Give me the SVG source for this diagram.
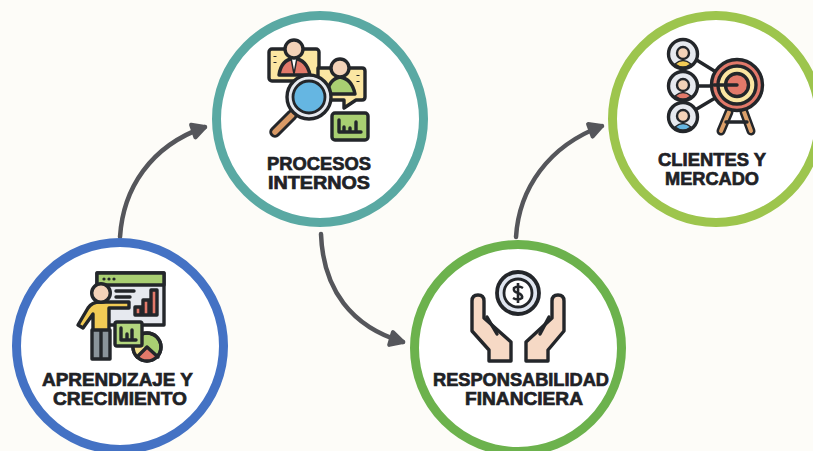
<svg xmlns="http://www.w3.org/2000/svg" width="813" height="451" viewBox="0 0 813 451">
<style>
.bg{fill:#fdfcf8}
.ring{fill:#fff;stroke-width:9}
.lbl{font-family:"Liberation Sans",Arial,sans-serif;font-weight:700;font-size:18.5px;fill:#1f2226;stroke:#1f2226;stroke-width:.7;text-anchor:middle}
.conn{fill:none;stroke:#55565b;stroke-width:4.500;stroke-linecap:round}
.k{stroke:#23262a;stroke-width:3.400;stroke-linejoin:round;stroke-linecap:round}
.n{fill:none}
.face{fill:#f3d2b8;stroke:#23262a;stroke-width:2.400}
</style>
<defs>
<marker id="arrow" viewBox="0 0 12 12" refX="10" refY="6" markerWidth="4.400" markerHeight="4.400" orient="auto" markerUnits="strokeWidth">
<path d="M2.500 2L10 6L2.500 10Z" fill="#55565b" stroke="#55565b" stroke-width="2.500" stroke-linejoin="round"/>
</marker>
</defs>
<rect class="bg" width="813" height="451"/>
<g id="connectors">
<path class="conn" d="M120 237C123 189 150 146 205 127" marker-end="url(#arrow)"/>
<path class="conn" d="M321 234C323 290 352 327 403 342" marker-end="url(#arrow)"/>
<path class="conn" d="M516 237C519 189 548 146 602 126" marker-end="url(#arrow)"/>
</g>
<g id="aprendizaje">
<circle class="ring" cx="120" cy="346" r="103.500" stroke="#4472c4"/>
<rect class="k" x="97" y="273" width="67" height="52" fill="#e6e9ef"/>
<rect class="k" x="97" y="273" width="67" height="12" fill="#a9cf72"/>
<circle cx="104" cy="279" r="1.600" fill="#23262a"/><circle cx="109" cy="279" r="1.600" fill="#23262a"/><circle cx="114" cy="279" r="1.600" fill="#23262a"/>
<path class="k n" d="M116 291h18M116 297h14" stroke-width="2"/>
<path class="k" d="M135 315v-8h6v8zM143 315v-15h6v15zM151 315v-25h6v25z" fill="#e2796a" stroke-width="2"/>
<path class="k" d="M78 325L88 308Q92 302 100 302H129V308H109V333H93V314L83 328Z" fill="#f2cb55"/>
<path class="k" d="M92 330H101V359H92ZM101 330H110V359H101Z" fill="#8a949b"/>
<circle class="k" cx="101" cy="293" r="9.300" fill="#f3d2b8"/>
<circle class="k" cx="147" cy="347" r="14" fill="#a9cf72"/>
<path d="M147 347L137 357Q147 366 158 357Z" fill="#e2796a"/>
<path d="M147 347L133 347Q134 352 137 357Z" fill="#f2e08d"/>
<path class="k n" d="M147 347L137 357M147 347L158 357" stroke-width="2.200"/>
<circle class="k n" cx="147" cy="347" r="14"/>
<rect class="k" x="115" y="322" width="27" height="24" rx="2" fill="#b3d67e"/>
<path class="k n" d="M121 328V340H136M127 339V334M132 339V330" stroke-width="2.200"/>
<text class="lbl" x="117.500" y="385.500" textLength="151" lengthAdjust="spacingAndGlyphs">APRENDIZAJE Y</text>
<text class="lbl" x="120" y="404.500" textLength="134" lengthAdjust="spacingAndGlyphs">CRECIMIENTO</text>
</g>
<g id="procesos">
<circle class="ring" cx="320" cy="119" r="103.500" stroke="#5aa9a3"/>
<rect class="k" x="269" y="49" width="50" height="32" rx="3" fill="#fbe6a2"/>
<path class="k" d="M279 75Q281 60 294 58Q307 60 310 75Z" fill="#e2796a"/>
<path d="M291 58H297L294 74Z" fill="#fff" stroke="#23262a" stroke-width="1.500"/>
<circle class="k" cx="294" cy="49" r="9" fill="#f3d2b8"/>
<path class="k" d="M318 68H362Q365 68 365 71V97Q365 100 362 100H356L344 108V100H318Z" fill="#fbe6a2"/>
<path class="k" d="M327 94Q329 79 340 77Q352 79 355 94Z" fill="#a9cf72"/>
<circle class="k" cx="340" cy="68" r="9" fill="#f3d2b8"/>
<path d="M358 75v1M358 81v1M275 56v1M275 62v1" stroke="#23262a" stroke-width="3"/>
<path d="M292 115L275 132" stroke="#23262a" stroke-width="11.500" stroke-linecap="round"/>
<path d="M292 115L275 132" stroke="#d99a66" stroke-width="5.500" stroke-linecap="round"/>
<circle cx="309" cy="97" r="22" fill="#e6e9ef" stroke="#23262a" stroke-width="3.400"/>
<circle cx="309" cy="97" r="16" fill="#65b6e2" stroke="#23262a" stroke-width="2.800"/>
<rect class="k" x="332" y="113" width="36" height="27" rx="3" fill="#a9cf72"/>
<path class="k n" d="M339 120V132H361M344 131V127M350 131V128M356 131V122" stroke-width="2.800"/>
<text class="lbl" x="319" y="170" textLength="104" lengthAdjust="spacingAndGlyphs">PROCESOS</text>
<text class="lbl" x="319" y="189" textLength="102" lengthAdjust="spacingAndGlyphs">INTERNOS</text>
</g>
<g id="responsabilidad">
<circle class="ring" cx="518" cy="348" r="103.500" stroke="#6cb24d"/>
<circle cx="518" cy="293" r="21" fill="#dfe5ef" stroke="#23262a" stroke-width="3.800"/>
<circle cx="518" cy="293" r="14" fill="#fff" stroke="#23262a" stroke-width="2.800"/>
<path class="n" d="M523 288Q518 285 514 288Q513 292 518 293Q523 295 522 298Q518 301 513 298M518 283V303" stroke="#23262a" stroke-width="2.600"/>
<path class="k" d="M472 301Q472 295 478 295Q484 295 484 301V318L511 342V361H489V350L472 331Z" fill="#f6d9c5"/>
<path class="k n" d="M487 317L497 334"/>
<path class="k" d="M564 301Q564 295 558 295Q552 295 552 301V318L526 342V361H548V350L564 331Z" fill="#f6d9c5"/>
<path class="k n" d="M549 317L540 334"/>
<text class="lbl" x="521" y="385.500" textLength="176" lengthAdjust="spacingAndGlyphs">RESPONSABILIDAD</text>
<text class="lbl" x="524" y="404.500" textLength="118" lengthAdjust="spacingAndGlyphs">FINANCIERA</text>
</g>
<g id="clientes">
<circle class="ring" cx="716" cy="119" r="103.500" stroke="#9dc54d"/>
<path class="k n" d="M695 59L737 85M697 86H737M695 110L737 85"/>
<path d="M729 112L721 131M744 112L751 131" stroke="#23262a" stroke-width="9" stroke-linecap="round"/>
<path d="M729 112L721 131M744 112L751 131" stroke="#dca06a" stroke-width="4" stroke-linecap="round"/>
<path class="k n" d="M726 122H747"/>
<circle class="k" cx="737" cy="85" r="25.500" fill="#e2796a"/>
<circle class="k" cx="737" cy="85" r="19" fill="#fbe6a2"/>
<circle class="k" cx="737" cy="85" r="11.500" fill="#e2796a"/>
<path class="k n" d="M714 85H737"/>
<circle class="k" cx="683" cy="54" r="14.500" fill="#e6e9ef"/>
<path d="M675 64Q683 57 691 64Q683 70 675 64Z" fill="#f2cb55" stroke="#23262a" stroke-width="1.500"/><circle class="face" cx="683" cy="53" r="6"/>
<circle class="k" cx="683" cy="86" r="14.500" fill="#e6e9ef"/>
<path d="M675 96Q683 89 691 96Q683 102 675 96Z" fill="#e2796a" stroke="#23262a" stroke-width="1.500"/><circle class="face" cx="683" cy="85" r="6"/>
<circle class="k" cx="683" cy="117" r="14.500" fill="#e6e9ef"/>
<path d="M675 127Q683 120 691 127Q683 133 675 127Z" fill="#65b6e2" stroke="#23262a" stroke-width="1.500"/><circle class="face" cx="683" cy="116" r="6"/>
<text class="lbl" x="712" y="166" textLength="108" lengthAdjust="spacingAndGlyphs">CLIENTES Y</text>
<text class="lbl" x="712" y="185" textLength="94" lengthAdjust="spacingAndGlyphs">MERCADO</text>
</g>
</svg>
